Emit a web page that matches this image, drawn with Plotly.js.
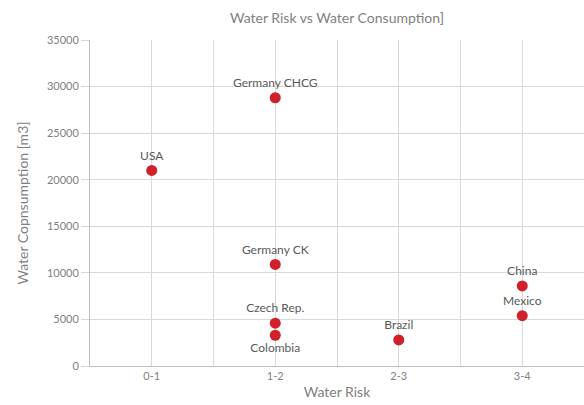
<!DOCTYPE html>
<html>
<head>
<meta charset="utf-8">
<script src="https://cdn.plot.ly/plotly-3.0.1.min.js"></script>
<style>html,body{margin:0;padding:0;background:#fff;}#chart{width:584px;height:405px;}</style>
</head>
<body>
<div id="chart"></div>
<script>
const categories = ["0-1", "1-2", "2-3", "3-4"];
const sites = ["USA", "Germany CHCG", "Germany CK", "Czech Rep.", "Colombia", "Brazil", "China", "Mexico"];
const riskCategory = ["0-1", "1-2", "1-2", "1-2", "1-2", "2-3", "3-4", "3-4"];
const consumption = [21000, 28800, 10900, 4600, 3300, 2800, 8600, 5400];
const labelPosition = ["top center", "top center", "top center", "top center", "bottom center", "top center", "top center", "top center"];

const xIndex = riskCategory.map(c => categories.indexOf(c));
const tickvals = [], ticktext = [];
for (let i = -0.5; i <= 3.5; i += 0.5) {
  tickvals.push(i);
  ticktext.push(Number.isInteger(i) ? categories[i] : "");
}
const fontFam = "Lato, 'Open Sans', sans-serif";

Plotly.newPlot("chart", [{
  type: "scatter",
  mode: "markers+text",
  x: xIndex,
  y: consumption,
  text: sites,
  textposition: labelPosition,
  textfont: {family: fontFam, size: 12, color: "#595959"},
  marker: {color: "#d0202a", size: 11},
  cliponaxis: false,
  hoverinfo: "none"
}], {
  width: 584, height: 405,
  margin: {l: 90, r: 0, t: 40, b: 39},
  paper_bgcolor: "#fff", plot_bgcolor: "#fff",
  showlegend: false,
  title: {text: "Water Risk vs Water Consumption]", x: 0.577, xanchor: "center", y: 0.955, yanchor: "middle",
          font: {family: fontFam, size: 14, color: "#7f7f7f"}},
  xaxis: {
    range: [-0.5, 3.5], tickvals: tickvals, ticktext: ticktext,
    showgrid: true, gridcolor: "#d9d9d9", gridwidth: 1,
    zeroline: false, showline: true, linecolor: "#bfbfbf",
    ticks: "", tickfont: {family: fontFam, size: 11, color: "#7f7f7f"},
    title: {text: "Water Risk", font: {family: fontFam, size: 14, color: "#7f7f7f"}, standoff: 5}
  },
  yaxis: {
    range: [0, 35000], dtick: 5000, tickformat: "d",
    showgrid: true, gridcolor: "#d9d9d9", gridwidth: 1,
    zeroline: false, showline: true, linecolor: "#bfbfbf",
    ticks: "outside", ticklen: 8, tickcolor: "#d9d9d9",
    tickfont: {family: fontFam, size: 11, color: "#7f7f7f"},
    title: {text: "Water Copnsumption [m3]", font: {family: fontFam, size: 14, color: "#7f7f7f"}, standoff: 14}
  },
  font: {family: fontFam}
}, {displayModeBar: false, staticPlot: true});
</script>
</body>
</html>
